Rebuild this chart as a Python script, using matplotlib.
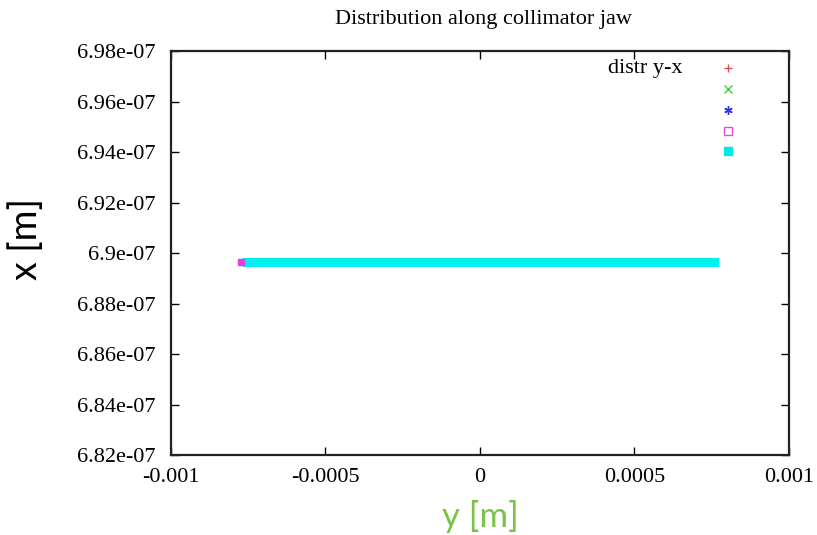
import matplotlib
matplotlib.use("Agg")
import matplotlib.pyplot as plt
from matplotlib.lines import Line2D

# band of particles along the jaw (y from ... to ..., x constant)
band_y = [-0.000770, 0.000772]
band_x = [6.8964e-07, 6.8964e-07]
edge_y = [-0.000775]
edge_x = [6.8964e-07]

xticks = [-0.001, -0.0005, 0, 0.0005, 0.001]
xticklabels = ["-0.001", "-0.0005", "0", "0.0005", "0.001"]
yticks = [6.82e-07, 6.84e-07, 6.86e-07, 6.88e-07, 6.90e-07,
          6.92e-07, 6.94e-07, 6.96e-07, 6.98e-07]
yticklabels = ["6.82e-07", "6.84e-07", "6.86e-07", "6.88e-07", "6.9e-07",
               "6.92e-07", "6.94e-07", "6.96e-07", "6.98e-07"]

# key entries (gnuplot style: only the first one has a title)
key_labels = ["distr y-x", "", "", "", ""]
key_markers = ["+", "x", (6, 2, 0), "s", "s"]
key_colors = ["#e05050", "#40d040", "#3030e0", "#e050e0", "#00e8e8"]
key_filled = [True, True, True, False, True]

serif = "Liberation Serif"
fig = plt.figure(figsize=(8.17, 5.35), dpi=100)
ax = fig.add_axes([0.2093, 0.1495, 0.7564, 0.7551])

ax.plot(band_y, band_x, color="#00f0f0", lw=6.5, solid_capstyle="butt")
ax.plot(edge_y, edge_x, ls="none", marker="s", ms=5, color="#e040e0")

ax.set_xlim(-0.001, 0.001)
ax.set_ylim(6.82e-07, 6.98e-07)
ax.set_xticks(xticks)
ax.set_xticklabels(xticklabels, family=serif, fontsize=16)
ax.set_yticks(yticks)
ax.set_yticklabels(yticklabels, family=serif, fontsize=16)
ax.tick_params(direction="in", length=6, width=1, top=True, right=True)
ax.tick_params(axis="x", pad=9)
ax.tick_params(axis="y", pad=11)
for s in ax.spines.values():
    s.set_linewidth(1.6)
    s.set_color("#222222")

fig.text(0.592, 0.964, "Distribution along collimator jaw", family=serif,
         fontsize=16, ha="center", va="center")
ax.set_xlabel("y [m]", family="Lato", fontsize=25, color="#7cc24a", labelpad=10)
ax.set_ylabel("x [m]", family="Lato", fontsize=27, color="black")
ax.yaxis.set_label_coords(-0.205, 0.535)

# key
key_rows = [0.958, 0.906, 0.854, 0.802, 0.752]
for lab, m, c, f, yy in zip(key_labels, key_markers, key_colors, key_filled, key_rows):
    ax.add_line(Line2D([0.9013], [yy], transform=ax.transAxes, ls="none", marker=m,
                       ms=6, mew=1, color=c, mfc=c if f else "none"))
    if lab:
        ax.text(0.827, yy, lab, transform=ax.transAxes, ha="right", va="center",
                family=serif, fontsize=16)

fig.savefig("out.png", dpi=100)
